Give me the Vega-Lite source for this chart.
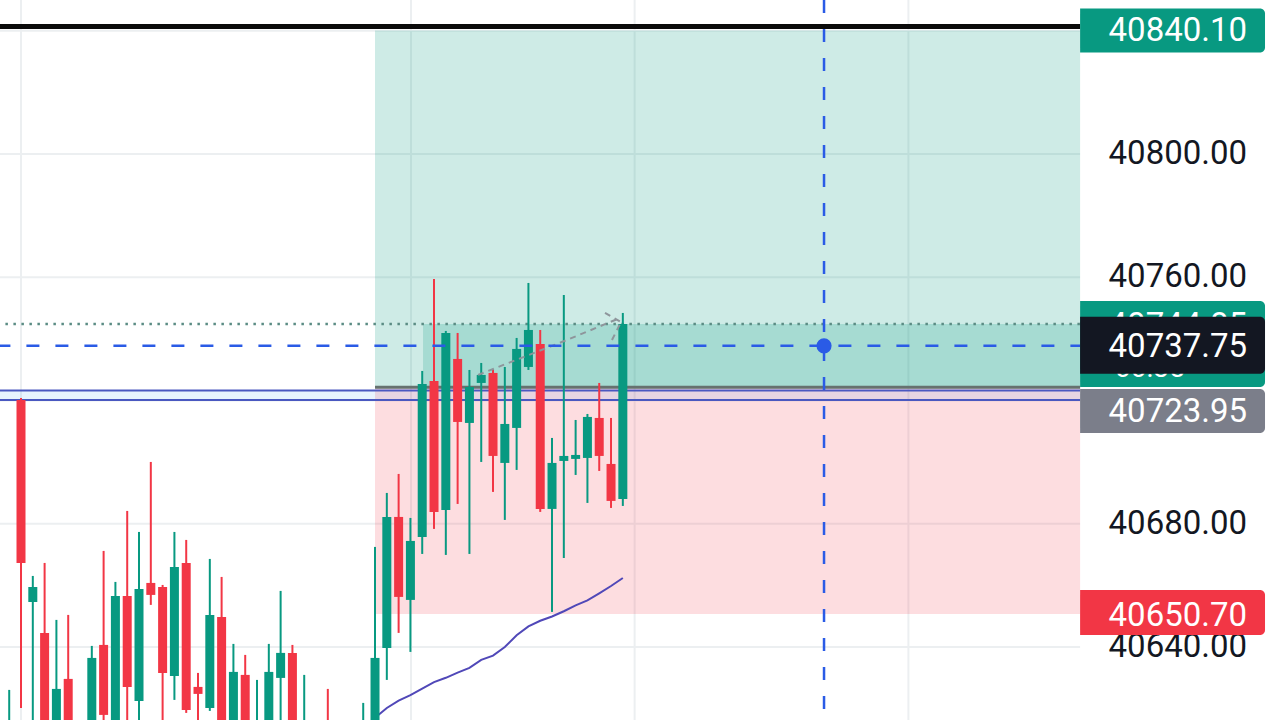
{
  "$schema": "https://vega.github.io/schema/vega-lite/v6.json",
  "width": 1280,
  "height": 720,
  "autosize": {"type": "none"},
  "padding": 0,
  "background": "#ffffff",
  "config": {"view": {"stroke": null}, "scale": {"continuousPadding": 0}},
  "datasets": {
    "candles": [
      {"i": -1, "open": 40609.84, "high": 40626.07, "low": 40603.35, "close": 40614.71},
      {"i": 0, "open": 40720.18, "high": 40720.83, "low": 40620.23, "close": 40667.28},
      {"i": 1, "open": 40654.63, "high": 40663.06, "low": 40613.09, "close": 40659.50},
      {"i": 2, "open": 40644.57, "high": 40667.28, "low": 40606.59, "close": 40611.46},
      {"i": 3, "open": 40609.84, "high": 40648.79, "low": 40604.97, "close": 40626.39},
      {"i": 4, "open": 40629.64, "high": 40650.41, "low": 40608.22, "close": 40613.09},
      {"i": 5, "open": 40606.59, "high": 40613.73, "low": 40603.35, "close": 40611.46},
      {"i": 6, "open": 40611.46, "high": 40640.35, "low": 40606.59, "close": 40636.45},
      {"i": 7, "open": 40640.67, "high": 40671.18, "low": 40613.73, "close": 40617.95},
      {"i": 8, "open": 40611.46, "high": 40661.12, "low": 40608.22, "close": 40656.57},
      {"i": 9, "open": 40656.57, "high": 40684.16, "low": 40613.09, "close": 40627.04},
      {"i": 10, "open": 40622.50, "high": 40677.34, "low": 40614.71, "close": 40658.85},
      {"i": 11, "open": 40660.79, "high": 40700.06, "low": 40653.66, "close": 40656.90},
      {"i": 12, "open": 40659.50, "high": 40660.14, "low": 40614.71, "close": 40631.58},
      {"i": 13, "open": 40630.61, "high": 40677.34, "low": 40622.82, "close": 40665.99},
      {"i": 14, "open": 40667.28, "high": 40674.75, "low": 40618.60, "close": 40619.58},
      {"i": 15, "open": 40627.04, "high": 40631.58, "low": 40614.71, "close": 40624.77},
      {"i": 16, "open": 40620.23, "high": 40668.58, "low": 40619.25, "close": 40650.41},
      {"i": 17, "open": 40649.76, "high": 40662.74, "low": 40606.59, "close": 40609.84},
      {"i": 18, "open": 40611.46, "high": 40641.00, "low": 40608.22, "close": 40631.91},
      {"i": 19, "open": 40630.94, "high": 40637.43, "low": 40606.59, "close": 40609.84},
      {"i": 20, "open": 40608.22, "high": 40629.31, "low": 40604.97, "close": 40614.71},
      {"i": 21, "open": 40609.84, "high": 40641.00, "low": 40606.59, "close": 40631.91},
      {"i": 22, "open": 40629.96, "high": 40658.20, "low": 40613.09, "close": 40638.08},
      {"i": 23, "open": 40638.08, "high": 40640.67, "low": 40606.59, "close": 40609.84},
      {"i": 24, "open": 40608.22, "high": 40630.94, "low": 40604.97, "close": 40614.71},
      {"i": 25, "open": 40613.09, "high": 40614.71, "low": 40604.97, "close": 40608.22},
      {"i": 26, "open": 40614.71, "high": 40626.39, "low": 40604.97, "close": 40608.22},
      {"i": 27, "open": 40606.59, "high": 40613.09, "low": 40603.35, "close": 40609.84},
      {"i": 28, "open": 40605.00, "high": 40614.00, "low": 40602.00, "close": 40610.00},
      {"i": 29, "open": 40608.22, "high": 40621.85, "low": 40604.97, "close": 40613.73},
      {"i": 30, "open": 40613.09, "high": 40672.48, "low": 40608.22, "close": 40636.45},
      {"i": 31, "open": 40639.70, "high": 40690.00, "low": 40629.31, "close": 40682.21},
      {"i": 32, "open": 40682.21, "high": 40696.17, "low": 40644.57, "close": 40656.25},
      {"i": 33, "open": 40655.28, "high": 40681.89, "low": 40638.40, "close": 40674.42},
      {"i": 34, "open": 40675.72, "high": 40729.60, "low": 40670.20, "close": 40725.38},
      {"i": 35, "open": 40726.35, "high": 40759.45, "low": 40678.32, "close": 40683.84},
      {"i": 36, "open": 40684.48, "high": 40742.58, "low": 40669.88, "close": 40741.93},
      {"i": 37, "open": 40733.49, "high": 40741.93, "low": 40686.43, "close": 40713.04},
      {"i": 38, "open": 40712.72, "high": 40729.92, "low": 40670.20, "close": 40724.40},
      {"i": 39, "open": 40725.70, "high": 40732.19, "low": 40700.06, "close": 40728.30},
      {"i": 40, "open": 40728.95, "high": 40730.24, "low": 40690.33, "close": 40702.01},
      {"i": 41, "open": 40699.74, "high": 40730.89, "low": 40681.24, "close": 40712.39},
      {"i": 42, "open": 40711.10, "high": 40740.31, "low": 40697.47, "close": 40736.74},
      {"i": 43, "open": 40730.89, "high": 40758.16, "low": 40729.92, "close": 40742.90},
      {"i": 44, "open": 40738.36, "high": 40742.90, "low": 40683.84, "close": 40684.81},
      {"i": 45, "open": 40684.81, "high": 40707.85, "low": 40651.38, "close": 40699.74},
      {"i": 46, "open": 40700.39, "high": 40754.26, "low": 40668.91, "close": 40702.01},
      {"i": 47, "open": 40701.04, "high": 40713.69, "low": 40695.84, "close": 40702.33},
      {"i": 48, "open": 40701.36, "high": 40715.64, "low": 40686.76, "close": 40714.67},
      {"i": 49, "open": 40714.34, "high": 40725.70, "low": 40697.14, "close": 40702.01},
      {"i": 50, "open": 40699.41, "high": 40714.34, "low": 40685.13, "close": 40687.41},
      {"i": 51, "open": 40688.05, "high": 40748.42, "low": 40685.78, "close": 40744.85}
    ],
    "ma": [
      {"i": 30, "v": 40617.0}, {"i": 31, "v": 40620.2}, {"i": 32, "v": 40622.6}, {"i": 33, "v": 40624.4},
      {"i": 34, "v": 40626.5}, {"i": 35, "v": 40628.6}, {"i": 36, "v": 40630.0}, {"i": 37, "v": 40631.7},
      {"i": 38, "v": 40633.2}, {"i": 39, "v": 40635.8}, {"i": 40, "v": 40637.2}, {"i": 41, "v": 40640.0},
      {"i": 42, "v": 40643.8}, {"i": 43, "v": 40646.7}, {"i": 44, "v": 40648.5}, {"i": 45, "v": 40649.9},
      {"i": 46, "v": 40651.6}, {"i": 47, "v": 40653.5}, {"i": 48, "v": 40655.1}, {"i": 49, "v": 40657.4},
      {"i": 50, "v": 40659.8}, {"i": 51, "v": 40662.4}
    ],
    "zones": [
      {"zone": "profit", "x1": 30, "x2": 89.75, "top": 40840.1, "bottom": 40723.95},
      {"zone": "loss", "x1": 30, "x2": 89.75, "top": 40723.95, "bottom": 40650.7},
      {"zone": "overlap", "x1": 34.07, "x2": 89.75, "top": 40744.85, "bottom": 40723.95},
      {"zone": "band", "x1": -2, "x2": 89.75, "top": 40723.26, "bottom": 40720.18}
    ],
    "gridh": [{"p": 40640}, {"p": 40680}, {"p": 40720}, {"p": 40760}, {"p": 40800}, {"p": 40840}],
    "ticks": [{"p": 40640}, {"p": 40680}, {"p": 40760}, {"p": 40800}],
    "gridx": [{"i": 0}, {"i": 33.05}, {"i": 52}, {"i": 75.2}],
    "levels": [
      {"name": "top", "p": 40841.4},
      {"name": "entry", "p": 40724.3},
      {"name": "last", "p": 40744.85},
      {"name": "cross", "p": 40737.75},
      {"name": "band", "p": 40723.26},
      {"name": "band", "p": 40720.18}
    ],
    "crossx": [{"i": 68.05, "p": 40737.75}],
    "proj": [
      {"seg": "a", "i": 38.73, "p": 40728.3},
      {"seg": "a", "i": 46.27, "p": 40739.66},
      {"seg": "a", "i": 50.76, "p": 40746.8},
      {"seg": "b", "i": 49.49, "p": 40748.42},
      {"seg": "b", "i": 50.85, "p": 40745.5},
      {"seg": "c", "i": 50.08, "p": 40739.66},
      {"seg": "c", "i": 50.85, "p": 40745.5}
    ],
    "badges": [
      {"kind": "tp", "price": 40840.10, "label": "40840.10", "sub": ""},
      {"kind": "last", "price": 40744.85, "label": "40744.85", "sub": "00:35"},
      {"kind": "cross", "price": 40737.75, "label": "40737.75", "sub": ""},
      {"kind": "entry", "price": 40723.95, "label": "40723.95", "sub": ""},
      {"kind": "sl", "price": 40650.70, "label": "40650.70", "sub": ""}
    ]
  },
  "layer": [
    {
      "data": {"name": "gridh"},
      "mark": {"type": "rule", "color": "#eceff1", "strokeWidth": 2},
      "encoding": {
        "y": {"field": "p", "type": "quantitative", "scale": {"domain": [40616.3, 40850], "nice": false, "zero": false, "padding": 0}, "axis": null},
        "x": {"datum": -2, "type": "quantitative", "scale": {"domain": [-1.78, 106.69], "nice": false, "zero": false, "padding": 0}, "axis": null},
        "x2": {"datum": 89.75}
      }
    },
    {
      "data": {"name": "gridx"},
      "mark": {"type": "rule", "color": "#eceff1", "strokeWidth": 2},
      "encoding": {
        "x": {"field": "i", "type": "quantitative", "scale": {"domain": [-1.78, 106.69], "nice": false, "zero": false, "padding": 0}, "axis": null}
      }
    },
    {
      "data": {"name": "zones"},
      "mark": {"type": "rect", "clip": true},
      "encoding": {
        "x": {"field": "x1", "type": "quantitative", "scale": {"domain": [-1.78, 106.69], "nice": false, "zero": false, "padding": 0}, "axis": null},
        "x2": {"field": "x2"},
        "y": {"field": "top", "type": "quantitative", "scale": {"domain": [40616.3, 40850], "nice": false, "zero": false, "padding": 0}, "axis": null},
        "y2": {"field": "bottom"},
        "color": {"field": "zone", "type": "nominal", "legend": null,
          "scale": {"domain": ["profit", "loss", "overlap", "band"],
                    "range": ["rgba(8,153,129,0.2)", "rgba(242,54,69,0.17)", "rgba(8,153,129,0.2)", "rgba(33,150,243,0.1)"]}}
      }
    },
    {
      "data": {"name": "levels"},
      "transform": [{"filter": "datum.name === 'band'"}],
      "mark": {"type": "rule", "color": "#4a58c0", "strokeWidth": 2},
      "encoding": {
        "y": {"field": "p", "type": "quantitative", "scale": {"domain": [40616.3, 40850], "nice": false, "zero": false, "padding": 0}, "axis": null},
        "x": {"datum": -2, "type": "quantitative", "scale": {"domain": [-1.78, 106.69], "nice": false, "zero": false, "padding": 0}, "axis": null},
        "x2": {"datum": 89.75}
      }
    },
    {
      "data": {"name": "levels"},
      "transform": [{"filter": "datum.name === 'entry'"}],
      "mark": {"type": "rule", "color": "#66716f", "strokeWidth": 3},
      "encoding": {
        "y": {"field": "p", "type": "quantitative", "scale": {"domain": [40616.3, 40850], "nice": false, "zero": false, "padding": 0}, "axis": null},
        "x": {"datum": 30, "type": "quantitative", "scale": {"domain": [-1.78, 106.69], "nice": false, "zero": false, "padding": 0}, "axis": null},
        "x2": {"datum": 89.75}
      }
    },
    {
      "data": {"name": "levels"},
      "transform": [{"filter": "datum.name === 'top'"}],
      "mark": {"type": "rule", "color": "#0a0a0a", "strokeWidth": 5},
      "encoding": {
        "y": {"field": "p", "type": "quantitative", "scale": {"domain": [40616.3, 40850], "nice": false, "zero": false, "padding": 0}, "axis": null},
        "x": {"datum": -2, "type": "quantitative", "scale": {"domain": [-1.78, 106.69], "nice": false, "zero": false, "padding": 0}, "axis": null},
        "x2": {"datum": 89.75}
      }
    },
    {
      "data": {"name": "levels"},
      "transform": [{"filter": "datum.name === 'last'"}],
      "mark": {"type": "rule", "color": "#5b8c84", "strokeWidth": 2.5, "strokeDash": [2.5, 5.5]},
      "encoding": {
        "y": {"field": "p", "type": "quantitative", "scale": {"domain": [40616.3, 40850], "nice": false, "zero": false, "padding": 0}, "axis": null},
        "x": {"datum": -2, "type": "quantitative", "scale": {"domain": [-1.78, 106.69], "nice": false, "zero": false, "padding": 0}, "axis": null},
        "x2": {"datum": 89.75}
      }
    },
    {
      "data": {"name": "ma"},
      "mark": {"type": "line", "color": "#5048b8", "strokeWidth": 2, "clip": true},
      "encoding": {
        "x": {"field": "i", "type": "quantitative", "scale": {"domain": [-1.78, 106.69], "nice": false, "zero": false, "padding": 0}, "axis": null},
        "y": {"field": "v", "type": "quantitative", "scale": {"domain": [40616.3, 40850], "nice": false, "zero": false, "padding": 0}, "axis": null}
      }
    },
    {
      "data": {"name": "candles"},
      "mark": {"type": "rule", "strokeWidth": 2, "clip": true},
      "encoding": {
        "x": {"field": "i", "type": "quantitative", "scale": {"domain": [-1.78, 106.69], "nice": false, "zero": false, "padding": 0}, "axis": null},
        "y": {"field": "low", "type": "quantitative", "scale": {"domain": [40616.3, 40850], "nice": false, "zero": false, "padding": 0}, "axis": null},
        "y2": {"field": "high"},
        "color": {"condition": {"test": "datum.close >= datum.open", "value": "#089981"}, "value": "#f23645"}
      }
    },
    {
      "data": {"name": "candles"},
      "mark": {"type": "bar", "size": 9, "clip": true, "orient": "vertical"},
      "encoding": {
        "x": {"field": "i", "type": "quantitative", "scale": {"domain": [-1.78, 106.69], "nice": false, "zero": false, "padding": 0}, "axis": null},
        "y": {"field": "open", "type": "quantitative", "scale": {"domain": [40616.3, 40850], "nice": false, "zero": false, "padding": 0}, "axis": null},
        "y2": {"field": "close"},
        "color": {"condition": {"test": "datum.close >= datum.open", "value": "#089981"}, "value": "#f23645"}
      }
    },
    {
      "data": {"name": "proj"},
      "mark": {"type": "line", "color": "#8e959b", "strokeWidth": 2, "strokeDash": [6, 5]},
      "encoding": {
        "x": {"field": "i", "type": "quantitative", "scale": {"domain": [-1.78, 106.69], "nice": false, "zero": false, "padding": 0}, "axis": null},
        "y": {"field": "p", "type": "quantitative", "scale": {"domain": [40616.3, 40850], "nice": false, "zero": false, "padding": 0}, "axis": null},
        "detail": {"field": "seg", "type": "nominal"}
      }
    },
    {
      "data": {"name": "levels"},
      "transform": [{"filter": "datum.name === 'cross'"}],
      "mark": {"type": "rule", "color": "#2a5be6", "strokeWidth": 2.5, "strokeDash": [13, 16]},
      "encoding": {
        "y": {"field": "p", "type": "quantitative", "scale": {"domain": [40616.3, 40850], "nice": false, "zero": false, "padding": 0}, "axis": null},
        "x": {"datum": -2, "type": "quantitative", "scale": {"domain": [-1.78, 106.69], "nice": false, "zero": false, "padding": 0}, "axis": null},
        "x2": {"datum": 89.75}
      }
    },
    {
      "data": {"name": "crossx"},
      "mark": {"type": "rule", "color": "#2a5be6", "strokeWidth": 2.5, "strokeDash": [13, 16]},
      "encoding": {
        "x": {"field": "i", "type": "quantitative", "scale": {"domain": [-1.78, 106.69], "nice": false, "zero": false, "padding": 0}, "axis": null}
      }
    },
    {
      "data": {"name": "crossx"},
      "mark": {"type": "point", "filled": true, "size": 230, "color": "#2a5be6", "opacity": 1},
      "encoding": {
        "x": {"field": "i", "type": "quantitative", "scale": {"domain": [-1.78, 106.69], "nice": false, "zero": false, "padding": 0}, "axis": null},
        "y": {"field": "p", "type": "quantitative", "scale": {"domain": [40616.3, 40850], "nice": false, "zero": false, "padding": 0}, "axis": null}
      }
    },
    {
      "data": {"name": "ticks"},
      "mark": {"type": "text", "align": "right", "baseline": "middle", "font": "Roboto", "fontSize": 33, "color": "#131722"},
      "encoding": {
        "y": {"field": "p", "type": "quantitative", "scale": {"domain": [40616.3, 40850], "nice": false, "zero": false, "padding": 0}, "axis": null},
        "x": {"datum": 103.9, "type": "quantitative", "scale": {"domain": [-1.78, 106.69], "nice": false, "zero": false, "padding": 0}, "axis": null},
        "text": {"field": "p", "type": "quantitative", "format": ".2f"}
      }
    },
    {
      "data": {"name": "badges"},
      "transform": [{"filter": "datum.kind === 'last'"}],
      "layer": [
        {"mark": {"type": "bar", "orient": "horizontal", "size": 86, "yOffset": 20, "color": "#089981", "cornerRadiusTopRight": 5, "cornerRadiusBottomRight": 5},
         "encoding": {"x": {"datum": 89.75, "type": "quantitative", "scale": {"domain": [-1.78, 106.69], "nice": false, "zero": false, "padding": 0}, "axis": null}, "x2": {"datum": 105.42}}},
        {"mark": {"type": "text", "align": "right", "baseline": "middle", "font": "Roboto", "fontSize": 33, "color": "#ffffff", "yOffset": 2},
         "encoding": {"x": {"datum": 103.9, "type": "quantitative", "scale": {"domain": [-1.78, 106.69], "nice": false, "zero": false, "padding": 0}, "axis": null}, "text": {"field": "label"}}},
        {"mark": {"type": "text", "align": "left", "baseline": "middle", "font": "Roboto", "fontSize": 28, "color": "#ffffff", "yOffset": 45},
         "encoding": {"x": {"datum": 92.7, "type": "quantitative", "scale": {"domain": [-1.78, 106.69], "nice": false, "zero": false, "padding": 0}, "axis": null}, "text": {"field": "sub"}}}
      ],
      "encoding": {
        "y": {"field": "price", "type": "quantitative", "scale": {"domain": [40616.3, 40850], "nice": false, "zero": false, "padding": 0}, "axis": null}
      }
    },
    {
      "data": {"name": "badges"},
      "transform": [{"filter": "datum.kind === 'entry'"}],
      "layer": [
        {"mark": {"type": "bar", "orient": "horizontal", "size": 44, "yOffset": 22.6, "color": "#7b7e8a", "cornerRadiusTopRight": 5, "cornerRadiusBottomRight": 5},
         "encoding": {"x": {"datum": 89.75, "type": "quantitative", "scale": {"domain": [-1.78, 106.69], "nice": false, "zero": false, "padding": 0}, "axis": null}, "x2": {"datum": 105.42}}},
        {"mark": {"type": "text", "align": "right", "baseline": "middle", "font": "Roboto", "fontSize": 33, "color": "#ffffff", "yOffset": 23.5},
         "encoding": {"x": {"datum": 103.9, "type": "quantitative", "scale": {"domain": [-1.78, 106.69], "nice": false, "zero": false, "padding": 0}, "axis": null}, "text": {"field": "label"}}}
      ],
      "encoding": {
        "y": {"field": "price", "type": "quantitative", "scale": {"domain": [40616.3, 40850], "nice": false, "zero": false, "padding": 0}, "axis": null}
      }
    },
    {
      "data": {"name": "badges"},
      "transform": [{"filter": "datum.kind === 'tp'"}],
      "layer": [
        {"mark": {"type": "bar", "orient": "horizontal", "size": 44, "color": "#089981", "cornerRadiusTopRight": 5, "cornerRadiusBottomRight": 5},
         "encoding": {"x": {"datum": 89.75, "type": "quantitative", "scale": {"domain": [-1.78, 106.69], "nice": false, "zero": false, "padding": 0}, "axis": null}, "x2": {"datum": 105.42}}},
        {"mark": {"type": "text", "align": "right", "baseline": "middle", "font": "Roboto", "fontSize": 33, "color": "#ffffff", "yOffset": 0.5},
         "encoding": {"x": {"datum": 103.9, "type": "quantitative", "scale": {"domain": [-1.78, 106.69], "nice": false, "zero": false, "padding": 0}, "axis": null}, "text": {"field": "label"}}}
      ],
      "encoding": {
        "y": {"field": "price", "type": "quantitative", "scale": {"domain": [40616.3, 40850], "nice": false, "zero": false, "padding": 0}, "axis": null}
      }
    },
    {
      "data": {"name": "badges"},
      "transform": [{"filter": "datum.kind === 'sl'"}],
      "layer": [
        {"mark": {"type": "bar", "orient": "horizontal", "size": 45, "yOffset": -1.5, "color": "#f23645", "cornerRadiusTopRight": 5, "cornerRadiusBottomRight": 5},
         "encoding": {"x": {"datum": 89.75, "type": "quantitative", "scale": {"domain": [-1.78, 106.69], "nice": false, "zero": false, "padding": 0}, "axis": null}, "x2": {"datum": 105.42}}},
        {"mark": {"type": "text", "align": "right", "baseline": "middle", "font": "Roboto", "fontSize": 33, "color": "#ffffff", "yOffset": 2},
         "encoding": {"x": {"datum": 103.9, "type": "quantitative", "scale": {"domain": [-1.78, 106.69], "nice": false, "zero": false, "padding": 0}, "axis": null}, "text": {"field": "label"}}}
      ],
      "encoding": {
        "y": {"field": "price", "type": "quantitative", "scale": {"domain": [40616.3, 40850], "nice": false, "zero": false, "padding": 0}, "axis": null}
      }
    },
    {
      "data": {"name": "badges"},
      "transform": [{"filter": "datum.kind === 'cross'"}],
      "layer": [
        {"mark": {"type": "bar", "orient": "horizontal", "size": 57, "yOffset": -0.6, "color": "#131722", "cornerRadiusTopRight": 5, "cornerRadiusBottomRight": 5},
         "encoding": {"x": {"datum": 89.75, "type": "quantitative", "scale": {"domain": [-1.78, 106.69], "nice": false, "zero": false, "padding": 0}, "axis": null}, "x2": {"datum": 105.42}}},
        {"mark": {"type": "text", "align": "right", "baseline": "middle", "font": "Roboto", "fontSize": 33, "color": "#ffffff", "yOffset": 1},
         "encoding": {"x": {"datum": 103.9, "type": "quantitative", "scale": {"domain": [-1.78, 106.69], "nice": false, "zero": false, "padding": 0}, "axis": null}, "text": {"field": "label"}}}
      ],
      "encoding": {
        "y": {"field": "price", "type": "quantitative", "scale": {"domain": [40616.3, 40850], "nice": false, "zero": false, "padding": 0}, "axis": null}
      }
    }
  ]
}
